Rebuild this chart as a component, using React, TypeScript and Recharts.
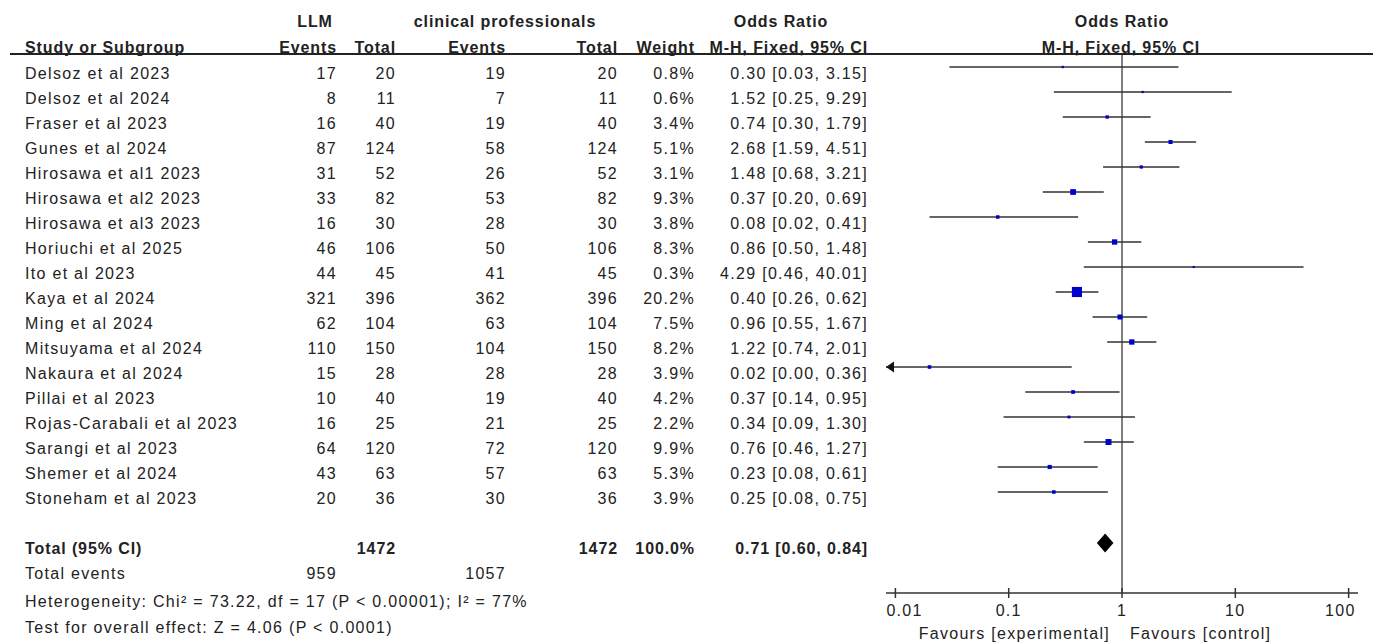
import React from 'react';
import { ComposedChart, XAxis, YAxis, Scatter, ReferenceLine, ReferenceArea } from 'recharts';

const studies = [
  'Delsoz et al 2023', 'Delsoz et al 2024', 'Fraser et al 2023', 'Gunes et al 2024',
  'Hirosawa et al1 2023', 'Hirosawa et al2 2023', 'Hirosawa et al3 2023', 'Horiuchi et al 2025',
  'Ito et al 2023', 'Kaya et al 2024', 'Ming et al 2024', 'Mitsuyama et al 2024',
  'Nakaura et al 2024', 'Pillai et al 2023', 'Rojas-Carabali et al 2023', 'Sarangi et al 2023',
  'Shemer et al 2024', 'Stoneham et al 2023',
];
const llmEvents = [17, 8, 16, 87, 31, 33, 16, 46, 44, 321, 62, 110, 15, 10, 16, 64, 43, 20];
const llmTotal = [20, 11, 40, 124, 52, 82, 30, 106, 45, 396, 104, 150, 28, 40, 25, 120, 63, 36];
const clinEvents = [19, 7, 19, 58, 26, 53, 28, 50, 41, 362, 63, 104, 28, 19, 21, 72, 57, 30];
const clinTotal = [20, 11, 40, 124, 52, 82, 30, 106, 45, 396, 104, 150, 28, 40, 25, 120, 63, 36];
const weights = [0.8, 0.6, 3.4, 5.1, 3.1, 9.3, 3.8, 8.3, 0.3, 20.2, 7.5, 8.2, 3.9, 4.2, 2.2, 9.9, 5.3, 3.9];
const oddsRatios = [0.30, 1.52, 0.74, 2.68, 1.48, 0.37, 0.08, 0.86, 4.29, 0.40, 0.96, 1.22, 0.02, 0.37, 0.34, 0.76, 0.23, 0.25];
const ciLower = [0.03, 0.25, 0.30, 1.59, 0.68, 0.20, 0.02, 0.50, 0.46, 0.26, 0.55, 0.74, 0.00, 0.14, 0.09, 0.46, 0.08, 0.08];
const ciUpper = [3.15, 9.29, 1.79, 4.51, 3.21, 0.69, 0.41, 1.48, 40.01, 0.62, 1.67, 2.01, 0.36, 0.95, 1.30, 1.27, 0.61, 0.75];

const totalLlmTotal = 1472;
const totalClinTotal = 1472;
const totalWeight = 100.0;
const totalOR = 0.71;
const totalLower = 0.60;
const totalUpper = 0.84;
const totalLlmEvents = 959;
const totalClinEvents = 1057;
const heterogeneityText = 'Heterogeneity: Chi² = 73.22, df = 17 (P < 0.00001); I² = 77%';
const overallText = 'Test for overall effect: Z = 4.06 (P < 0.0001)';

const xTicks = [0.01, 0.1, 1, 10, 100];
const axisMin = 0.00826;
const axisMax = 121;

const W = 1378;
const H = 643;
const ROW0 = 67;
const ROWH = 25;
const TOTAL_ROW = 19;
const FONT = "'Liberation Sans', Arial, Helvetica, sans-serif";
const TXT = '#222';

const pointData = studies.map((s, i) => ({ x: oddsRatios[i], y: i, w: weights[i] }));
const arrowData = studies
  .map((s, i) => ({ x: axisMin, y: i, lo: ciLower[i] }))
  .filter((d) => d.lo < axisMin);

const SquareShape = (p: any) => {
  const s = 2 + 0.4 * p.payload.w;
  return <rect x={p.cx - s / 2} y={p.cy - s / 2} width={s} height={s} fill="#0000cc" />;
};

const ArrowShape = (p: any) => (
  <polygon points={`${p.cx},${p.cy} ${p.cx + 8},${p.cy - 5.5} ${p.cx + 8},${p.cy + 5.5}`} fill="#111" />
);

const DiamondShape = (p: any) => {
  const { x, y, width, height } = p;
  return (
    <polygon
      points={`${x},${y + height / 2} ${x + width / 2},${y} ${x + width},${y + height / 2} ${x + width / 2},${y + height}`}
      fill="#000"
    />
  );
};

const renderTick = (p: any) => {
  const { x, y, payload, index } = p;
  let anchor: any = 'middle';
  let dx = 0;
  if (index === 0) {
    anchor = 'start';
    dx = -9;
  } else if (index === xTicks.length - 1) {
    anchor = 'end';
    dx = 7;
  }
  return (
    <g>
      <line x1={x} x2={x} y1={y - 5} y2={y + 5} stroke="#333" strokeWidth={1.5} />
      <text
        x={x + dx}
        y={y + 17}
        textAnchor={anchor}
        dominantBaseline="central"
        fontFamily={FONT}
        fontSize={16}
        letterSpacing={1.3}
        fill={TXT}
      >
        {String(payload.value)}
      </text>
    </g>
  );
};

const fmt2 = (v: number) => v.toFixed(2);
const orText = (o: number, l: number, u: number) => `${fmt2(o)} [${fmt2(l)}, ${fmt2(u)}]`;

const T = (props: any) => {
  const { bold, anchor, children, ...rest } = props;
  return (
    <text
      fontFamily={FONT}
      fontSize={16}
      fontWeight={bold ? 'bold' : 'normal'}
      letterSpacing={bold ? 0.9 : 1.3}
      fill={TXT}
      textAnchor={anchor || 'start'}
      dominantBaseline="central"
      {...rest}
    >
      {children}
    </text>
  );
};

const COL = { name: 25, llmEv: 337, llmTot: 396, clinEv: 506, clinTot: 618, weight: 695, or: 868 };

export default function App() {
  const rowY = (i: number) => ROW0 + ROWH * i + 6;
  return (
    <div style={{ position: 'absolute', left: 0, top: 0, width: W, height: H, background: '#fff' }}>
      <ComposedChart
        width={W}
        height={H}
        margin={{ top: 54, right: 20, bottom: 20, left: 886 }}
        style={{ position: 'absolute', left: 0, top: 0 }}
      >
        <XAxis
          type="number"
          dataKey="x"
          scale="log"
          domain={[axisMin, axisMax]}
          ticks={xTicks}
          interval={0}
          allowDataOverflow
          tickLine={false}
          tickSize={0}
          tickMargin={0}
          height={30}
          axisLine={{ stroke: '#333', strokeWidth: 1.5 }}
          tick={renderTick}
        />
        <YAxis type="number" dataKey="y" domain={[-0.52, 21.04]} reversed hide allowDataOverflow />
        <ReferenceLine x={1} stroke="#555" strokeWidth={1.5} />
        {studies.map((s, i) => (
          <ReferenceLine
            key={s}
            segment={[
              { x: Math.max(ciLower[i], axisMin), y: i },
              { x: Math.min(ciUpper[i], axisMax), y: i },
            ]}
            stroke="#333"
            strokeWidth={1.6}
            ifOverflow="visible"
          />
        ))}
        <ReferenceArea
          x1={totalLower}
          x2={totalUpper}
          y1={TOTAL_ROW + 0.04 - 0.38}
          y2={TOTAL_ROW + 0.04 + 0.38}
          shape={DiamondShape}
          ifOverflow="visible"
        />
        <Scatter data={pointData} shape={SquareShape} isAnimationActive={false} />
        <Scatter data={arrowData} shape={ArrowShape} isAnimationActive={false} />
      </ComposedChart>
      <svg
        width={W}
        height={H}
        style={{ position: 'absolute', left: 0, top: 0, pointerEvents: 'none' }}
      >
        {/* header */}
        <T bold x={315} y={21} anchor="middle">LLM</T>
        <T bold x={505} y={21} anchor="middle">clinical professionals</T>
        <T bold x={781} y={21} anchor="middle">Odds Ratio</T>
        <T bold x={1122} y={21} anchor="middle">Odds Ratio</T>
        <T bold x={COL.name} y={47}>Study or Subgroup</T>
        <T bold x={COL.llmEv} y={47} anchor="end">Events</T>
        <T bold x={COL.llmTot} y={47} anchor="end">Total</T>
        <T bold x={COL.clinEv} y={47} anchor="end">Events</T>
        <T bold x={COL.clinTot} y={47} anchor="end">Total</T>
        <T bold x={COL.weight} y={47} anchor="end">Weight</T>
        <T bold x={COL.or} y={47} anchor="end">M-H, Fixed, 95% CI</T>
        <T bold x={1121} y={47} anchor="middle">M-H, Fixed, 95% CI</T>
        <line x1={10} x2={1373} y1={54} y2={54} stroke="#222" strokeWidth={2} />

        {studies.map((s, i) => (
          <g key={s}>
            <T x={COL.name} y={rowY(i)}>{s}</T>
            <T x={COL.llmEv} y={rowY(i)} anchor="end">{llmEvents[i]}</T>
            <T x={COL.llmTot} y={rowY(i)} anchor="end">{llmTotal[i]}</T>
            <T x={COL.clinEv} y={rowY(i)} anchor="end">{clinEvents[i]}</T>
            <T x={COL.clinTot} y={rowY(i)} anchor="end">{clinTotal[i]}</T>
            <T x={COL.weight} y={rowY(i)} anchor="end">{`${weights[i].toFixed(1)}%`}</T>
            <T x={COL.or} y={rowY(i)} anchor="end">{orText(oddsRatios[i], ciLower[i], ciUpper[i])}</T>
          </g>
        ))}

        <T bold x={COL.name} y={rowY(TOTAL_ROW)}>Total (95% CI)</T>
        <T bold x={COL.llmTot} y={rowY(TOTAL_ROW)} anchor="end">{totalLlmTotal}</T>
        <T bold x={COL.clinTot} y={rowY(TOTAL_ROW)} anchor="end">{totalClinTotal}</T>
        <T bold x={COL.weight} y={rowY(TOTAL_ROW)} anchor="end">{`${totalWeight.toFixed(1)}%`}</T>
        <T bold x={COL.or} y={rowY(TOTAL_ROW)} anchor="end">{orText(totalOR, totalLower, totalUpper)}</T>

        <T x={COL.name} y={rowY(TOTAL_ROW + 1)}>Total events</T>
        <T x={COL.llmEv} y={rowY(TOTAL_ROW + 1)} anchor="end">{totalLlmEvents}</T>
        <T x={COL.clinEv} y={rowY(TOTAL_ROW + 1)} anchor="end">{totalClinEvents}</T>
        <T x={COL.name} y={601}>{heterogeneityText}</T>
        <T x={COL.name} y={627}>{overallText}</T>

        <T x={1110} y={633} anchor="end">Favours [experimental]</T>
        <T x={1130} y={633}>Favours [control]</T>
      </svg>
    </div>
  );
}
